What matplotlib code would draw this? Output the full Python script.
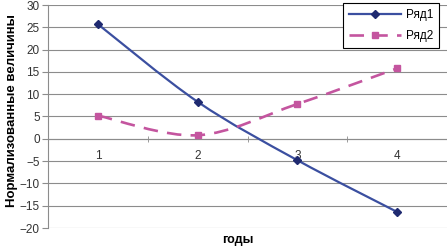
import matplotlib.pyplot as plt
import numpy as np
from matplotlib.path import Path
from matplotlib.patches import PathPatch
from matplotlib.lines import Line2D

plt.rcParams['font.family'] = ['Liberation Sans', 'DejaVu Sans']

# данные
years = [1, 2, 3, 4]
series1 = [25.7, 8.3, -4.8, -16.4]
series2 = [5.2, 0.8, 7.8, 15.8]
series_names = ["Ряд1", "Ряд2"]
y_ticks = list(range(-20, 31, 5))

BLUE = "#3B4FA0"
BLUE_MARK = "#1F2A70"
PINK = "#C4559F"
GRID = "#8C8C8C"
DASH = (0, (5.5, 3.5))


def smooth_path(xs, ys):
    """сглаженная линия как в Excel (Catmull-Rom через кривые Безье)"""
    pts = np.column_stack([xs, ys]).astype(float)
    ext = np.vstack([pts[0], pts, pts[-1]])
    verts = [pts[0]]
    codes = [Path.MOVETO]
    for i in range(len(pts) - 1):
        p0, p1, p2, p3 = ext[i], ext[i + 1], ext[i + 2], ext[i + 3]
        c1 = p1 + (p2 - p0) / 6
        c2 = p2 - (p3 - p1) / 6
        verts += [c1, c2, p2]
        codes += [Path.CURVE4] * 3
    return Path(verts, codes)


fig = plt.figure(figsize=(4.47, 2.49), dpi=100)
ax = fig.add_axes([48 / 447, 21 / 249, 399 / 447, 223 / 249])

ax.set_xlim(0.5, 4.5)
ax.set_ylim(-20, 30)

for v in y_ticks:
    ax.axhline(v, color=GRID, lw=0.8, zorder=0)

ax.add_patch(PathPatch(smooth_path(years, series1), fill=False, edgecolor=BLUE,
                       lw=1.6, zorder=3))
ax.plot(years, series1, ls="none", marker="D", ms=4, color=BLUE_MARK, zorder=4)

ax.add_patch(PathPatch(smooth_path(years, series2), fill=False, edgecolor=PINK,
                       lw=1.9, ls=DASH, zorder=3))
ax.plot(years, series2, ls="none", marker="s", ms=5, color=PINK, zorder=4)

# оси
for side in ["top", "right"]:
    ax.spines[side].set_visible(False)
ax.spines["left"].set_color(GRID)
ax.spines["bottom"].set_position(("data", 0))
ax.spines["bottom"].set_color(GRID)

ax.set_yticks(y_ticks)
ax.tick_params(axis="y", length=4, color=GRID, labelsize=8.5, labelcolor="#333333", pad=2)
ax.set_xticks(years)
ax.set_xticks([1.5, 2.5, 3.5], minor=True)
ax.tick_params(axis="x", which="major", length=0, labelsize=8.5, labelcolor="#333333", pad=8)
ax.tick_params(axis="x", which="minor", length=4, color=GRID, direction="inout")

fig.text(12 / 447, 1 - 111 / 249, "Нормализованные величины", rotation=90,
         ha="center", va="center", fontsize=9.5, fontweight="bold")
fig.text(238 / 447, 1 - 240 / 249, "годы", ha="center", va="center",
         fontsize=9, fontweight="bold")

handles = [
    Line2D([], [], color=BLUE, lw=1.6, marker="D", ms=4, mfc=BLUE_MARK, mec=BLUE_MARK),
    Line2D([], [], color=PINK, lw=1.9, ls=DASH, marker="s", ms=5),
]
leg = ax.legend(handles, series_names, loc="upper right", bbox_to_anchor=(439 / 447, 1 - 3 / 249),
                bbox_transform=fig.transFigure, fontsize=8.5, frameon=True, fancybox=False,
                edgecolor="black", framealpha=1, handlelength=4.4, handletextpad=0.4,
                borderpad=0.5, borderaxespad=0, labelspacing=0.75)
leg.get_frame().set_linewidth(0.8)

fig.savefig("out.png", dpi=100)
